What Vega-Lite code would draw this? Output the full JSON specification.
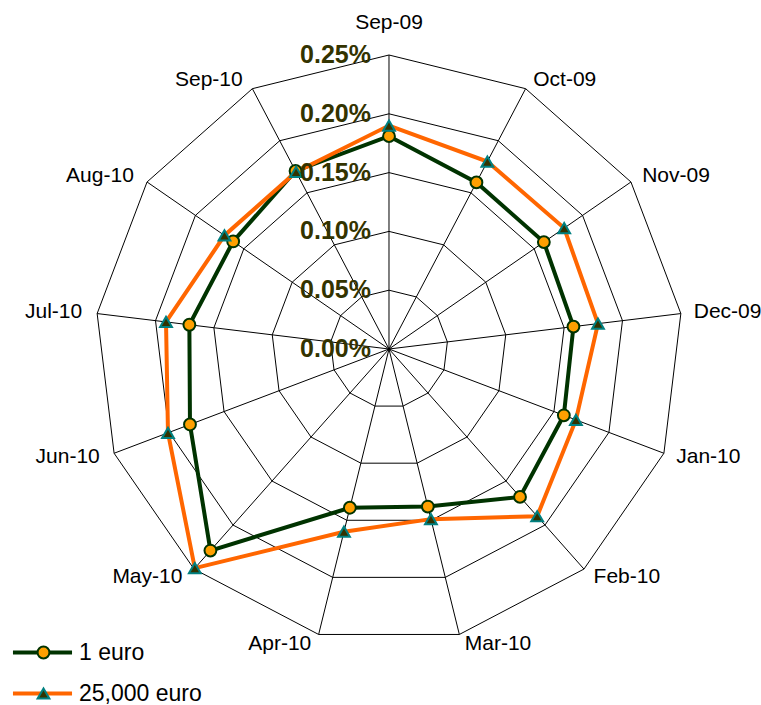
{
  "$schema": "https://vega.github.io/schema/vega-lite/v6.json",
  "width": 761,
  "height": 705,
  "autosize": {"type": "none"},
  "padding": 0,
  "config": {"view": {"stroke": null}, "font": "Liberation Sans"},
  "datasets": {
    "axes": [
      {"month": "Sep-09", "i": 0}, {"month": "Oct-09", "i": 1}, {"month": "Nov-09", "i": 2},
      {"month": "Dec-09", "i": 3}, {"month": "Jan-10", "i": 4}, {"month": "Feb-10", "i": 5},
      {"month": "Mar-10", "i": 6}, {"month": "Apr-10", "i": 7}, {"month": "May-10", "i": 8},
      {"month": "Jun-10", "i": 9}, {"month": "Jul-10", "i": 10}, {"month": "Aug-10", "i": 11},
      {"month": "Sep-10", "i": 12}
    ],
    "series": [
      {"month": "Sep-09", "i": 0, "series": "1 euro", "value": 0.181},
      {"month": "Oct-09", "i": 1, "series": "1 euro", "value": 0.160},
      {"month": "Nov-09", "i": 2, "series": "1 euro", "value": 0.160},
      {"month": "Dec-09", "i": 3, "series": "1 euro", "value": 0.158},
      {"month": "Jan-10", "i": 4, "series": "1 euro", "value": 0.159},
      {"month": "Feb-10", "i": 5, "series": "1 euro", "value": 0.168},
      {"month": "Mar-10", "i": 6, "series": "1 euro", "value": 0.138},
      {"month": "Apr-10", "i": 7, "series": "1 euro", "value": 0.139},
      {"month": "May-10", "i": 8, "series": "1 euro", "value": 0.229},
      {"month": "Jun-10", "i": 9, "series": "1 euro", "value": 0.181},
      {"month": "Jul-10", "i": 10, "series": "1 euro", "value": 0.171},
      {"month": "Aug-10", "i": 11, "series": "1 euro", "value": 0.161},
      {"month": "Sep-10", "i": 12, "series": "1 euro", "value": 0.171},
      {"month": "Sep-09", "i": 0, "series": "25,000 euro", "value": 0.190},
      {"month": "Oct-09", "i": 1, "series": "25,000 euro", "value": 0.180},
      {"month": "Nov-09", "i": 2, "series": "25,000 euro", "value": 0.181},
      {"month": "Dec-09", "i": 3, "series": "25,000 euro", "value": 0.179},
      {"month": "Jan-10", "i": 4, "series": "25,000 euro", "value": 0.170},
      {"month": "Feb-10", "i": 5, "series": "25,000 euro", "value": 0.190},
      {"month": "Mar-10", "i": 6, "series": "25,000 euro", "value": 0.149},
      {"month": "Apr-10", "i": 7, "series": "25,000 euro", "value": 0.160},
      {"month": "May-10", "i": 8, "series": "25,000 euro", "value": 0.249},
      {"month": "Jun-10", "i": 9, "series": "25,000 euro", "value": 0.201},
      {"month": "Jul-10", "i": 10, "series": "25,000 euro", "value": 0.191},
      {"month": "Aug-10", "i": 11, "series": "25,000 euro", "value": 0.170},
      {"month": "Sep-10", "i": 12, "series": "25,000 euro", "value": 0.170}
    ],
    "ticks": [
      {"level": 0.0, "label": "0.00%"},
      {"level": 0.05, "label": "0.05%"},
      {"level": 0.1, "label": "0.10%"},
      {"level": 0.15, "label": "0.15%"},
      {"level": 0.2, "label": "0.20%"},
      {"level": 0.25, "label": "0.25%"}
    ]
  },
  "layer": [
    {
      "data": {"name": "axes"},
      "transform": [
        {"calculate": "[0.05, 0.1, 0.15, 0.2, 0.25]", "as": "level"},
        {"flatten": ["level"]},
        {"calculate": "datum.i * 2 * PI / 13", "as": "a"},
        {"calculate": "datum.level * sin(datum.a)", "as": "x"},
        {"calculate": "datum.level * cos(datum.a)", "as": "y"}
      ],
      "mark": {"type": "line", "interpolate": "linear-closed", "stroke": "black", "strokeWidth": 1},
      "encoding": {
        "x": {"field": "x", "type": "quantitative", "scale": {"domain": [-0.33078, 0.31633], "nice": false, "zero": false}, "axis": null},
        "y": {"field": "y", "type": "quantitative", "scale": {"domain": [-0.30272, 0.29677], "nice": false, "zero": false}, "axis": null},
        "detail": {"field": "level", "type": "nominal"},
        "order": {"field": "i", "type": "quantitative"}
      }
    },
    {
      "data": {"name": "axes"},
      "transform": [
        {"calculate": "datum.i * 2 * PI / 13", "as": "a"},
        {"calculate": "0.25 * sin(datum.a)", "as": "x"},
        {"calculate": "0.25 * cos(datum.a)", "as": "y"}
      ],
      "mark": {"type": "rule", "stroke": "black", "strokeWidth": 1},
      "encoding": {
        "x": {"field": "x", "type": "quantitative", "scale": {"domain": [-0.33078, 0.31633], "nice": false, "zero": false}, "axis": null},
        "y": {"field": "y", "type": "quantitative", "scale": {"domain": [-0.30272, 0.29677], "nice": false, "zero": false}, "axis": null},
        "x2": {"datum": 0},
        "y2": {"datum": 0}
      }
    },
    {
      "data": {"name": "series"},
      "transform": [
        {"calculate": "datum.i * 2 * PI / 13", "as": "a"},
        {"calculate": "datum.value * sin(datum.a)", "as": "x"},
        {"calculate": "datum.value * cos(datum.a)", "as": "y"}
      ],
      "mark": {"type": "line", "interpolate": "linear-closed", "strokeWidth": 4},
      "encoding": {
        "x": {"field": "x", "type": "quantitative", "scale": {"domain": [-0.33078, 0.31633], "nice": false, "zero": false}, "axis": null},
        "y": {"field": "y", "type": "quantitative", "scale": {"domain": [-0.30272, 0.29677], "nice": false, "zero": false}, "axis": null},
        "order": {"field": "i", "type": "quantitative"},
        "color": {
          "field": "series", "type": "nominal",
          "scale": {"domain": ["1 euro", "25,000 euro"], "range": ["#003300", "#ff6600"]},
          "legend": {"title": null, "orient": "none", "legendX": 31, "legendY": 641, "symbolType": "M-4,0H4", "symbolSize": 218, "symbolStrokeWidth": 4, "labelFontSize": 23, "labelFont": "Liberation Sans", "labelColor": "black", "labelOffset": 25, "rowPadding": 17, "padding": 0}
        }
      }
    },
    {
      "data": {"name": "series"},
      "transform": [
        {"calculate": "datum.i * 2 * PI / 13", "as": "a"},
        {"calculate": "datum.value * sin(datum.a)", "as": "x"},
        {"calculate": "datum.value * cos(datum.a)", "as": "y"}
      ],
      "mark": {"type": "point", "filled": true, "size": 140, "strokeWidth": 2, "opacity": 1},
      "encoding": {
        "x": {"field": "x", "type": "quantitative", "scale": {"domain": [-0.33078, 0.31633], "nice": false, "zero": false}, "axis": null},
        "y": {"field": "y", "type": "quantitative", "scale": {"domain": [-0.30272, 0.29677], "nice": false, "zero": false}, "axis": null},
        "shape": {
          "field": "series", "type": "nominal",
          "scale": {"range": ["circle", "triangle-up"]},
          "legend": {"title": null, "orient": "none", "legendX": 32, "legendY": 641, "symbolSize": 140, "symbolStrokeWidth": 2, "labelFontSize": 23, "labelOpacity": 0, "rowPadding": 17, "padding": 0}
        },
        "fill": {
          "field": "series", "type": "nominal",
          "scale": {"range": ["#ffa000", "#333300"]},
          "legend": {"title": null, "orient": "none", "legendX": 32, "legendY": 641, "symbolSize": 140, "symbolStrokeWidth": 2, "labelFontSize": 23, "labelOpacity": 0, "rowPadding": 17, "padding": 0}
        },
        "stroke": {
          "field": "series", "type": "nominal",
          "scale": {"range": ["#003300", "#008080"]},
          "legend": {"title": null, "orient": "none", "legendX": 32, "legendY": 641, "symbolSize": 140, "symbolStrokeWidth": 2, "labelFontSize": 23, "labelOpacity": 0, "rowPadding": 17, "padding": 0}
        }
      }
    },
    {
      "data": {"name": "ticks"},
      "mark": {"type": "text", "align": "right", "baseline": "middle", "dx": -18, "fontSize": 25, "fontWeight": "bold", "color": "#333300", "font": "Liberation Sans"},
      "encoding": {
        "x": {"datum": 0, "type": "quantitative", "scale": {"domain": [-0.33078, 0.31633], "nice": false, "zero": false}, "axis": null},
        "y": {"field": "level", "type": "quantitative", "scale": {"domain": [-0.30272, 0.29677], "nice": false, "zero": false}, "axis": null},
        "text": {"field": "label"}
      }
    },
    {
      "data": {"name": "axes"},
      "transform": [
        {"filter": "datum.i >= 1 && datum.i <= 6"},
        {"calculate": "datum.i * 2 * PI / 13", "as": "a"},
        {"calculate": "0.2585 * sin(datum.a)", "as": "x"},
        {"calculate": "0.2585 * cos(datum.a)", "as": "y"}
      ],
      "mark": {"type": "text", "align": "left", "baseline": "middle", "dx": 3, "fontSize": 21, "color": "black", "font": "Liberation Sans"},
      "encoding": {
        "x": {"field": "x", "type": "quantitative", "scale": {"domain": [-0.33078, 0.31633], "nice": false, "zero": false}, "axis": null},
        "y": {"field": "y", "type": "quantitative", "scale": {"domain": [-0.30272, 0.29677], "nice": false, "zero": false}, "axis": null},
        "text": {"field": "month"}
      }
    },
    {
      "data": {"name": "axes"},
      "transform": [
        {"filter": "datum.i >= 7"},
        {"calculate": "datum.i * 2 * PI / 13", "as": "a"},
        {"calculate": "0.2585 * sin(datum.a)", "as": "x"},
        {"calculate": "0.2585 * cos(datum.a)", "as": "y"}
      ],
      "mark": {"type": "text", "align": "right", "baseline": "middle", "dx": -5, "fontSize": 21, "color": "black", "font": "Liberation Sans"},
      "encoding": {
        "x": {"field": "x", "type": "quantitative", "scale": {"domain": [-0.33078, 0.31633], "nice": false, "zero": false}, "axis": null},
        "y": {"field": "y", "type": "quantitative", "scale": {"domain": [-0.30272, 0.29677], "nice": false, "zero": false}, "axis": null},
        "text": {"field": "month"}
      }
    },
    {
      "data": {"name": "axes"},
      "transform": [
        {"filter": "datum.i == 0"},
        {"calculate": "0", "as": "x"},
        {"calculate": "0.2772", "as": "y"}
      ],
      "mark": {"type": "text", "align": "center", "baseline": "middle", "fontSize": 21, "color": "black", "font": "Liberation Sans"},
      "encoding": {
        "x": {"field": "x", "type": "quantitative", "scale": {"domain": [-0.33078, 0.31633], "nice": false, "zero": false}, "axis": null},
        "y": {"field": "y", "type": "quantitative", "scale": {"domain": [-0.30272, 0.29677], "nice": false, "zero": false}, "axis": null},
        "text": {"field": "month"}
      }
    }
  ]
}
